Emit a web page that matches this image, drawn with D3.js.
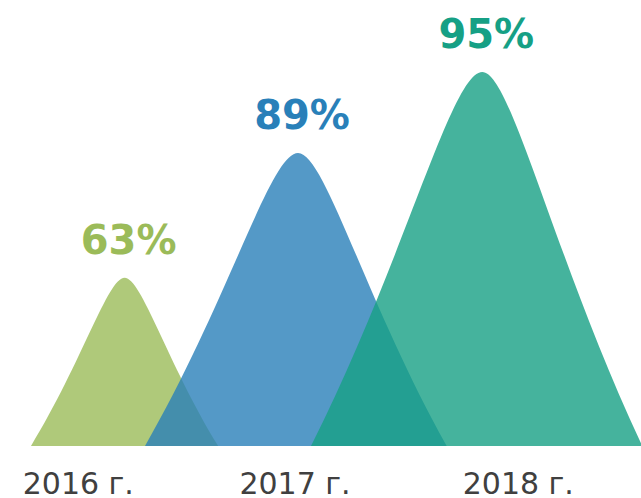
<!DOCTYPE html>
<html>
<head>
<meta charset="utf-8">
<script src="https://cdn.jsdelivr.net/npm/d3@7"></script>
<style>
  html, body { margin: 0; padding: 0; background: #fff; }
</style>
</head>
<body>
<div id="chart"></div>
<script>
// Données
const years = ['2016 г.', '2017 г.', '2018 г.'];
const values = [63, 89, 95];
const colors = ['#9bbb59', '#2980b9', '#16a085'];

const config = {
  width: 641,
  height: 498,
  baseline: 446,
  peakX: [124.6, 298, 482.3],
  spreadLeft: [93.6, 153, 171.3],
  spreadRight: [93.6, 148.7, 160],
  yearX: [78.3, 295, 518.3],
  yearY: 494,
  labelOffset: 24
};

const svg = d3.select('#chart').append('svg')
  .attr('width', config.width)
  .attr('height', config.height);

// Échelles
const xScale = d3.scaleOrdinal().domain(years).range(config.peakX);
const leftScale = d3.scaleOrdinal().domain(years).range(config.spreadLeft);
const rightScale = d3.scaleOrdinal().domain(years).range(config.spreadRight);
const yearScale = d3.scaleOrdinal().domain(years).range(config.yearX);
const colorScale = d3.scaleOrdinal().domain(years).range(colors);
// hauteur selon la part restante (100 - valeur), échelle log
const yScale = d3.scaleLog()
  .domain([190, 5])
  .range([config.baseline, 72]);

const data = years.map((y, i) => ({ year: y, value: values[i] }));

function peakPath (d) {
  const cx = xScale(d.year);
  const top = yScale(100 - d.value);
  const base = config.baseline;
  const h = base - top;
  const wl = leftScale(d.year);
  const wr = rightScale(d.year);
  const p = d3.path();
  p.moveTo(cx - wl, base);
  p.bezierCurveTo(cx - wl + 0.55 * wl, base - 0.5 * h, cx - 0.18 * wl, top, cx, top);
  p.bezierCurveTo(cx + 0.18 * wr, top, cx + wr - 0.55 * wr, base - 0.5 * h, cx + wr, base);
  p.closePath();
  return p.toString();
}

svg.append('g').attr('class', 'peaks')
  .selectAll('path')
  .data(data)
  .enter()
  .append('path')
  .attr('d', peakPath)
  .attr('fill', d => colorScale(d.year))
  .attr('fill-opacity', 0.8);

svg.append('g').attr('class', 'values')
  .selectAll('text')
  .data(data)
  .enter()
  .append('text')
  .attr('x', d => xScale(d.year) + 4)
  .attr('y', d => yScale(100 - d.value) - config.labelOffset)
  .attr('text-anchor', 'middle')
  .attr('font-family', 'DejaVu Sans, Verdana, sans-serif')
  .attr('font-weight', 'bold')
  .attr('font-size', 40)
  .attr('fill', d => colorScale(d.year))
  .text(d => d.value + '%');

svg.append('g').attr('class', 'years')
  .selectAll('text')
  .data(data)
  .enter()
  .append('text')
  .attr('x', d => yearScale(d.year))
  .attr('y', config.yearY)
  .attr('text-anchor', 'middle')
  .attr('font-family', 'DejaVu Sans, Verdana, sans-serif')
  .attr('font-size', 30)
  .attr('fill', '#404040')
  .text(d => d.year);
</script>
</body>
</html>
